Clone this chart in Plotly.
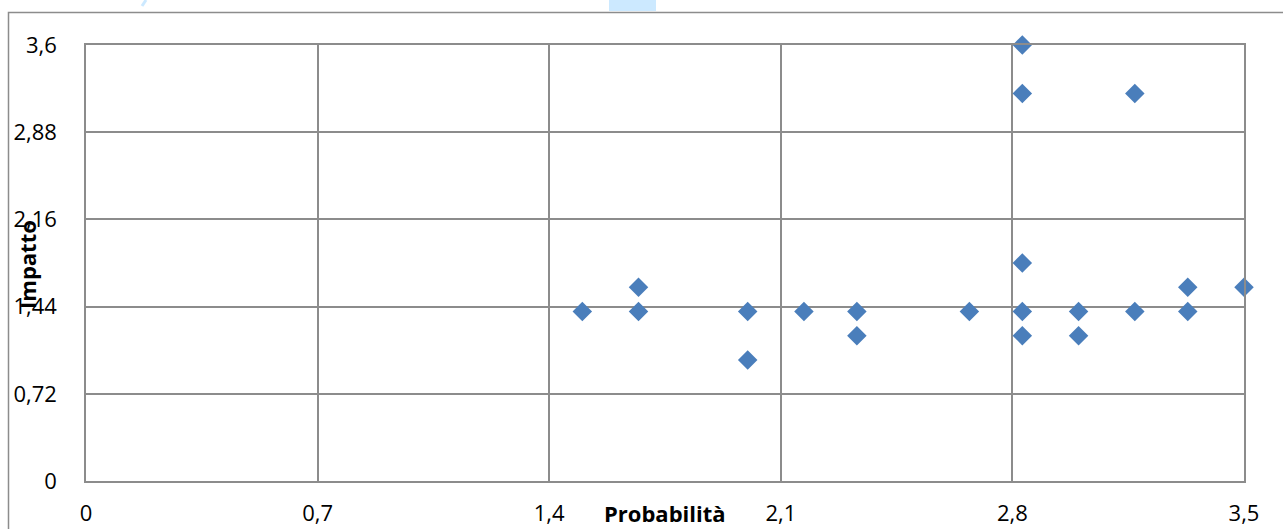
import plotly.graph_objects as go

probabilita = [1.5, 1.67, 1.67, 2.0, 2.0, 2.17, 2.33, 2.33, 2.67,
               2.83, 2.83, 2.83, 2.83, 2.83, 3.0, 3.0, 3.17, 3.17,
               3.33, 3.33, 3.5]
impatto = [1.4, 1.4, 1.6, 1.4, 1.0, 1.4, 1.4, 1.2, 1.4,
           3.6, 3.2, 1.8, 1.4, 1.2, 1.4, 1.2, 3.2, 1.4,
           1.6, 1.4, 1.6]

x_ticks = [0, 0.7, 1.4, 2.1, 2.8, 3.5]
x_labels = ["0", "0,7", "1,4", "2,1", "2,8", "3,5"]
y_ticks = [0, 0.72, 1.44, 2.16, 2.88, 3.6]
y_labels = ["0", "0,72", "1,44", "2,16", "2,88", "3,6"]

FONT = "Open Sans"
FS = 22
GRID = "#8c8c8c"

fig = go.Figure()
fig.add_trace(go.Scatter(
    x=probabilita, y=impatto, mode="markers",
    marker=dict(symbol="diamond", size=15, color="#4a7ebb"),
    cliponaxis=False, showlegend=False,
))

W, H = 1283, 529
L, R, T, B = 86, 39, 45, 48
pw, ph = W - L - R, H - T - B

def px_x(p):
    return (p - L) / pw

def px_y(p):
    return (H - B - p) / ph

fig.update_layout(
    width=W, height=H,
    margin=dict(l=L, r=R, t=T, b=B, autoexpand=False),
    paper_bgcolor="white", plot_bgcolor="white",
    font=dict(family=FONT, size=FS, color="black"),
    xaxis=dict(range=[0, 3.5], tickvals=x_ticks, ticktext=x_labels,
               tickfont=dict(family=FONT, size=FS, color="black"),
               showgrid=True, gridcolor=GRID, gridwidth=1.5,
               showline=True, linecolor=GRID, linewidth=1.5, mirror=True,
               zeroline=False, ticks="", ticklabelstandoff=12,
               automargin=False),
    yaxis=dict(range=[0, 3.6], tickvals=y_ticks, ticktext=y_labels,
               tickfont=dict(family=FONT, size=FS, color="black"),
               showgrid=True, gridcolor=GRID, gridwidth=1.5,
               showline=True, linecolor=GRID, linewidth=1.5, mirror=True,
               zeroline=False, ticks="", ticklabelstandoff=23,
               automargin=False),
    annotations=[
        dict(text="<b>Probabilità</b>", xref="paper", yref="paper",
             x=px_x(665), y=px_y(513), xanchor="center", yanchor="middle",
             showarrow=False, font=dict(family=FONT, size=FS)),
        dict(text="<b>Impatto</b>", xref="paper", yref="paper",
             x=px_x(27), y=px_y(265), xanchor="center", yanchor="middle",
             showarrow=False, textangle=-90,
             font=dict(family=FONT, size=FS)),
    ],
    shapes=[
        dict(type="rect", xref="paper", yref="paper",
             x0=px_x(8.5), x1=px_x(1300), y0=px_y(12.5), y1=px_y(560),
             line=dict(color=GRID, width=1.5), layer="below"),
        dict(type="rect", xref="paper", yref="paper",
             x0=px_x(609), x1=px_x(656), y0=px_y(0), y1=px_y(11),
             line=dict(width=0), fillcolor="#cce9ff"),
        dict(type="line", xref="paper", yref="paper",
             x0=px_x(146), x1=px_x(142), y0=px_y(0), y1=px_y(6),
             line=dict(color="#cce9ff", width=3)),
    ],
)

fig.write_html("out.html")
